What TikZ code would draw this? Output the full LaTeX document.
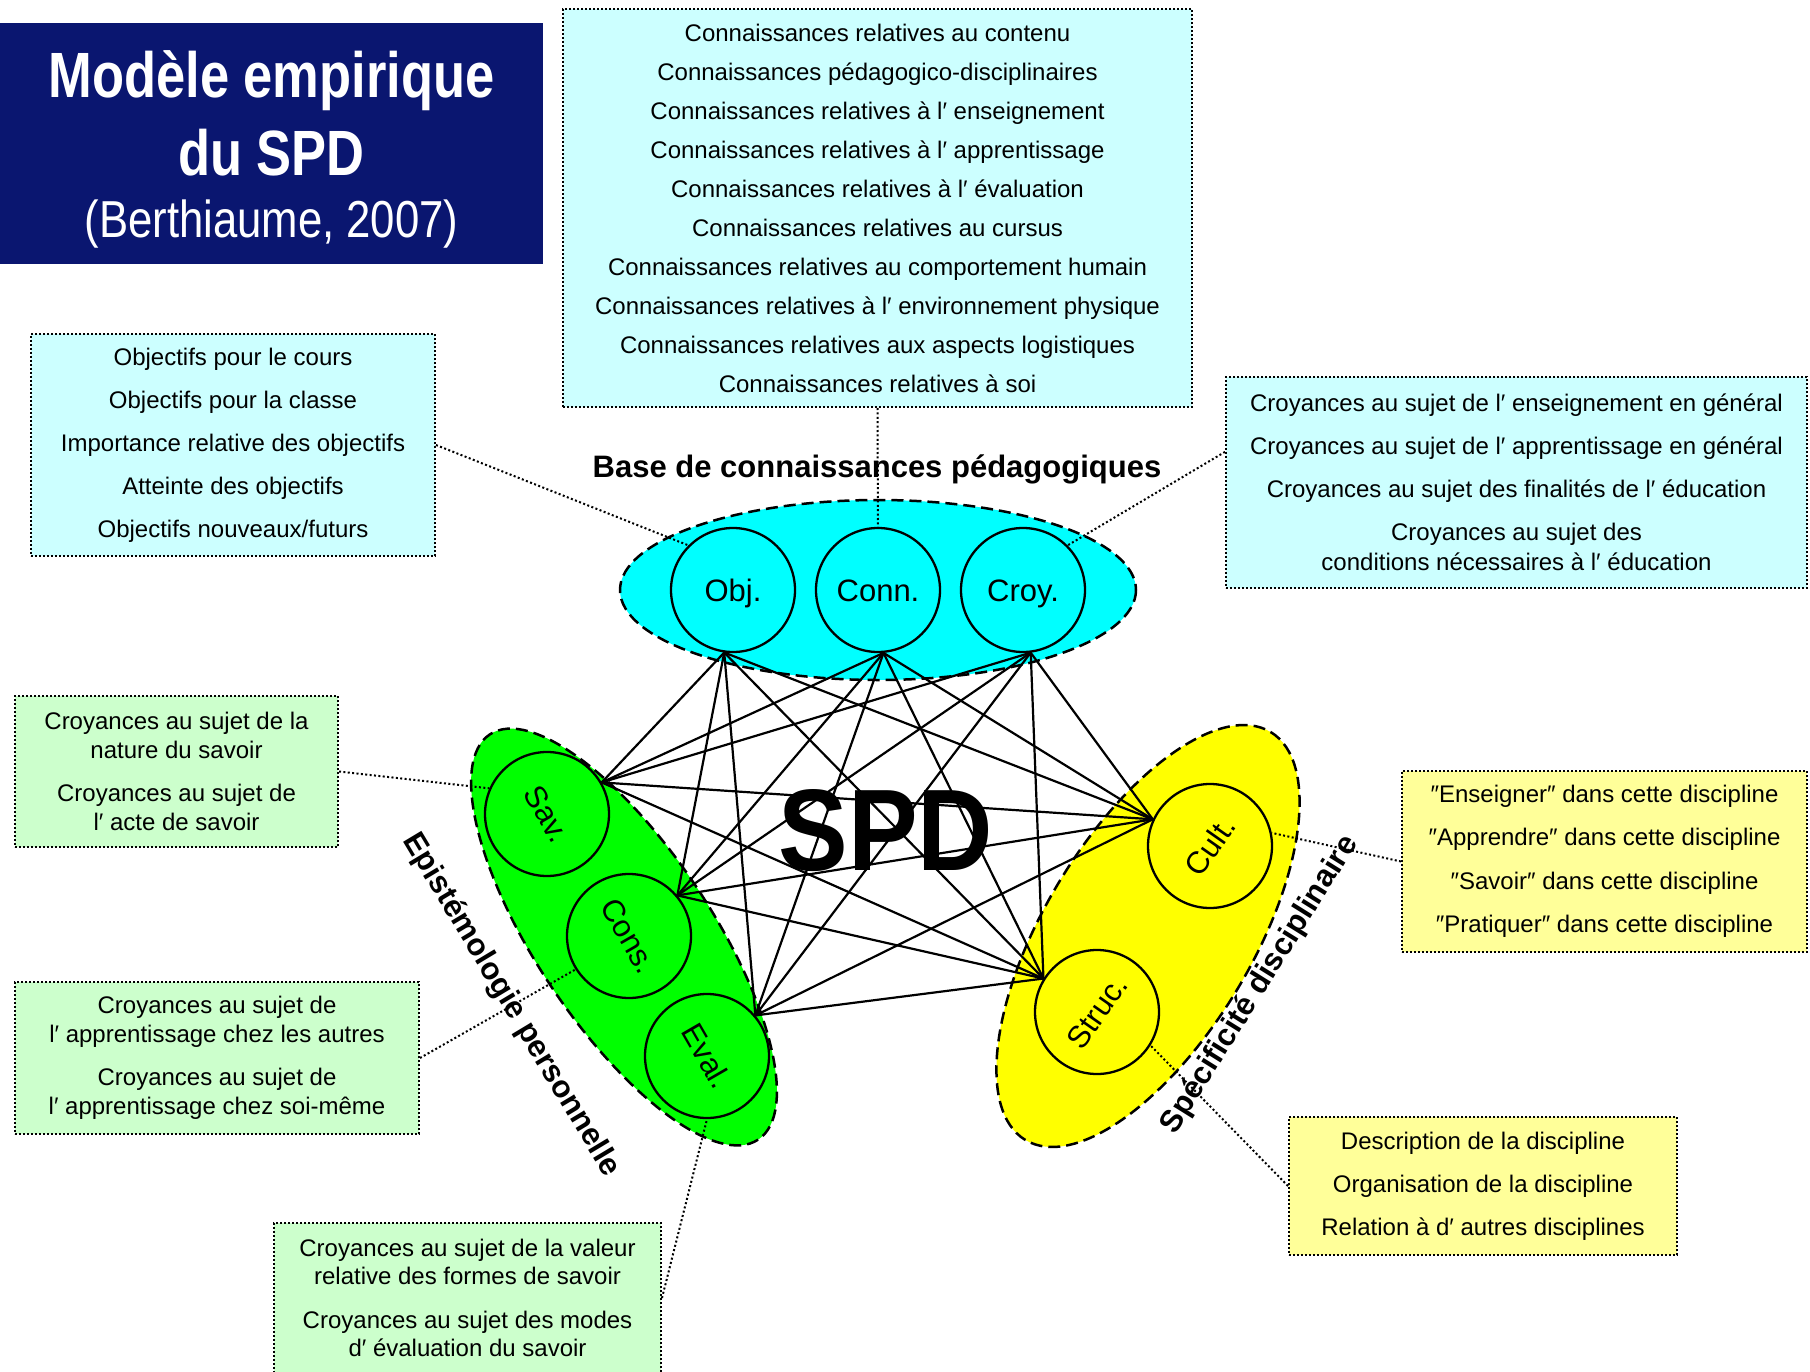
\documentclass[tikz,border=0pt]{standalone}
\usepackage{fontspec}
\usepackage{graphicx}
\setmainfont{Liberation Sans}
\newfontfamily\titlefont[FakeStretch=0.82]{Liberation Sans}
\newfontfamily\yearfont[FakeStretch=0.84]{Liberation Sans}
\newfontfamily\spdfont[FakeStretch=0.9]{Liberation Sans}

\begin{document}
\begin{tikzpicture}[x=1pt, y=-1pt,
    infobox/.style={draw, line width=2pt, dash pattern=on 2pt off 2pt, inner sep=0pt, align=center},
    cyanbox/.style={infobox, fill=pale_cyan},
    greenbox/.style={infobox, fill=pale_green},
    yellowbox/.style={infobox, fill=pale_yellow},
    group/.style={draw, line width=2.5pt, dash pattern=on 12pt off 6pt},
    circ/.style={circle, draw, line width=2.3pt, minimum size=124pt, inner sep=0pt, font=\fontsize{31}{31}\selectfont},
    flat/.style={text height=22pt, text depth=0pt},
    link/.style={line width=2.2pt},
    dots/.style={line width=2pt, dash pattern=on 2pt off 2.4pt},
    grouplabel/.style={font=\bfseries\fontsize{31}{31}\selectfont}
  ]
    \definecolor{title_blue}{RGB}{10, 22, 112}
    \definecolor{pale_cyan}{RGB}{204, 255, 255}
    \definecolor{pale_green}{RGB}{204, 255, 204}
    \definecolor{pale_yellow}{RGB}{255, 255, 153}
    \definecolor{full_cyan}{RGB}{0, 255, 255}
    \definecolor{full_green}{RGB}{0, 255, 0}
    \definecolor{full_yellow}{RGB}{255, 255, 0}
    \def\boxfont#1{\fontsize{24}{#1}\selectfont}

    \useasboundingbox (0,0) rectangle (1810,1372);

    % Title block
    \fill[title_blue] (0,23) rectangle (543,264);
    \node[anchor=base, text=white, font=\titlefont\bfseries\fontsize{64}{64}\selectfont] (titleA) at (271.5,98) {Modèle empirique};
    \node[anchor=base, text=white, font=\titlefont\bfseries\fontsize{64}{64}\selectfont] (titleB) at (271.5,176) {du SPD};
    \node[anchor=base, text=white, font=\yearfont\fontsize{52}{52}\selectfont] (titleC) at (271.5,238) {(Berthiaume, 2007)};

    % Boxes of the base de connaissances
    \node[cyanbox, minimum width=629pt, minimum height=398pt, font=\boxfont{39}] (conbox) at (877.5,208) {%
      Connaissances relatives au contenu\\
      Connaissances pédagogico-disciplinaires\\
      Connaissances relatives à l′ enseignement\\
      Connaissances relatives à l′ apprentissage\\
      Connaissances relatives à l′ évaluation\\
      Connaissances relatives au cursus\\
      Connaissances relatives au comportement humain\\
      Connaissances relatives à l′ environnement physique\\
      Connaissances relatives aux aspects logistiques\\
      Connaissances relatives à soi};
    \node[cyanbox, minimum width=404pt, minimum height=222pt, font=\boxfont{43}] (objbox) at (233,445) {%
      Objectifs pour le cours\\
      Objectifs pour la classe\\
      Importance relative des objectifs\\
      Atteinte des objectifs\\
      Objectifs nouveaux/futurs};
    \node[cyanbox, minimum width=581pt, minimum height=211pt, font=\boxfont{30}] (croybox) at (1516.5,482.5) {%
      Croyances au sujet de l′ enseignement en général\\[13pt]
      Croyances au sujet de l′ apprentissage en général\\[13pt]
      Croyances au sujet des finalités de l′ éducation\\[13pt]
      Croyances au sujet des\\
      conditions nécessaires à l′ éducation};

    % Boxes of the épistémologie personnelle
    \node[greenbox, minimum width=323pt, minimum height=151pt, font=\boxfont{28.5}] (savbox) at (176.5,771.5) {%
      Croyances au sujet de la\\
      nature du savoir\\[15pt]
      Croyances au sujet de\\
      l′ acte de savoir};
    \node[greenbox, minimum width=404pt, minimum height=152pt, font=\boxfont{28.5}] (consbox) at (217,1058) {%
      Croyances au sujet de\\
      l′ apprentissage chez les autres\\[15pt]
      Croyances au sujet de\\
      l′ apprentissage chez soi-même};
    \node[greenbox, minimum width=387pt, minimum height=150pt, font=\boxfont{28.5}] (evalbox) at (467.5,1298) {%
      Croyances au sujet de la valeur\\
      relative des formes de savoir\\[15pt]
      Croyances au sujet des modes\\
      d′ évaluation du savoir};

    % Boxes of the spécificité disciplinaire
    \node[yellowbox, minimum width=405pt, minimum height=181pt, font=\boxfont{43.5}] (cultbox) at (1604.5,861.5) {%
      ″Enseigner″ dans cette discipline\\
      ″Apprendre″ dans cette discipline\\
      ″Savoir″ dans cette discipline\\
      ″Pratiquer″ dans cette discipline};
    \node[yellowbox, minimum width=388pt, minimum height=138pt, font=\boxfont{43}] (strucbox) at (1483,1186) {%
      Description de la discipline\\
      Organisation de la discipline\\
      Relation à d′ autres disciplines};

    % Draw the three groups
    \draw[group, fill=full_cyan] (878,590) ellipse (258 and 90);
    \draw[group, fill=full_green, rotate around={-56.5:(624,937)}] (624,937) ellipse (243 and 88);
    \draw[group, fill=full_yellow, rotate around={59:(1148,936)}] (1148,936) ellipse (238 and 104);

    % Circles of each group
    \node[circ, flat, fill=full_cyan] (obj) at (733,590) {Obj.};
    \node[circ, flat, fill=full_cyan] (conn) at (878,590) {Conn.};
    \node[circ, flat, fill=full_cyan] (croy) at (1023,590) {Croy.};
    \node[circ, fill=full_green] (sav) at (547,814) {\rotatebox{-60}{Sav.}};
    \node[circ, fill=full_green] (cons) at (629,936) {\rotatebox{-60}{Cons.}};
    \node[circ, fill=full_green] (eval) at (707,1056) {\rotatebox{-60}{Eval.}};
    \node[circ, fill=full_yellow] (cult) at (1210,846) {\rotatebox{55}{Cult.}};
    \node[circ, fill=full_yellow] (struc) at (1097,1012) {\rotatebox{55}{Struc.}};

    % Draw the links between the groups
    \foreach \a in {obj.262, conn.275, croy.277}
      \foreach \b in {sav.30, cons.40, eval.40, cult.155, struc.148}
        \draw[link] (\a) -- (\b);
    \foreach \a in {sav.30, cons.40, eval.40}
      \foreach \b in {cult.155, struc.148}
        \draw[link] (\a) -- (\b);

    % Callouts from the boxes
    \draw[dots] (objbox.east) -- (obj.135);
    \draw[dots] (conbox.south) -- (conn.north);
    \draw[dots] (croybox.174.5) -- (croy.45);
    \draw[dots] (savbox.east) -- (sav.156);
    \draw[dots] (consbox.east) -- (cons.212);
    \draw[dots] (evalbox.east) -- (eval.south);
    \draw[dots] (cultbox.west) -- (cult.12);
    \draw[dots] (strucbox.west) -- (struc.328);

    % Group labels
    \node[grouplabel] (baselabel) at (877,469) {Base de connaissances pédagogiques};
    \node[grouplabel, rotate=-59] (epilabel) at (511,1005) {Epistémologie personnelle};
    \node[grouplabel, rotate=58] (speclabel) at (1260,985) {Spécificité disciplinaire};

    \node[font=\spdfont\bfseries\fontsize{116}{116}\selectfont] (spd) at (886,831) {SPD};
\end{tikzpicture}
\end{document}
